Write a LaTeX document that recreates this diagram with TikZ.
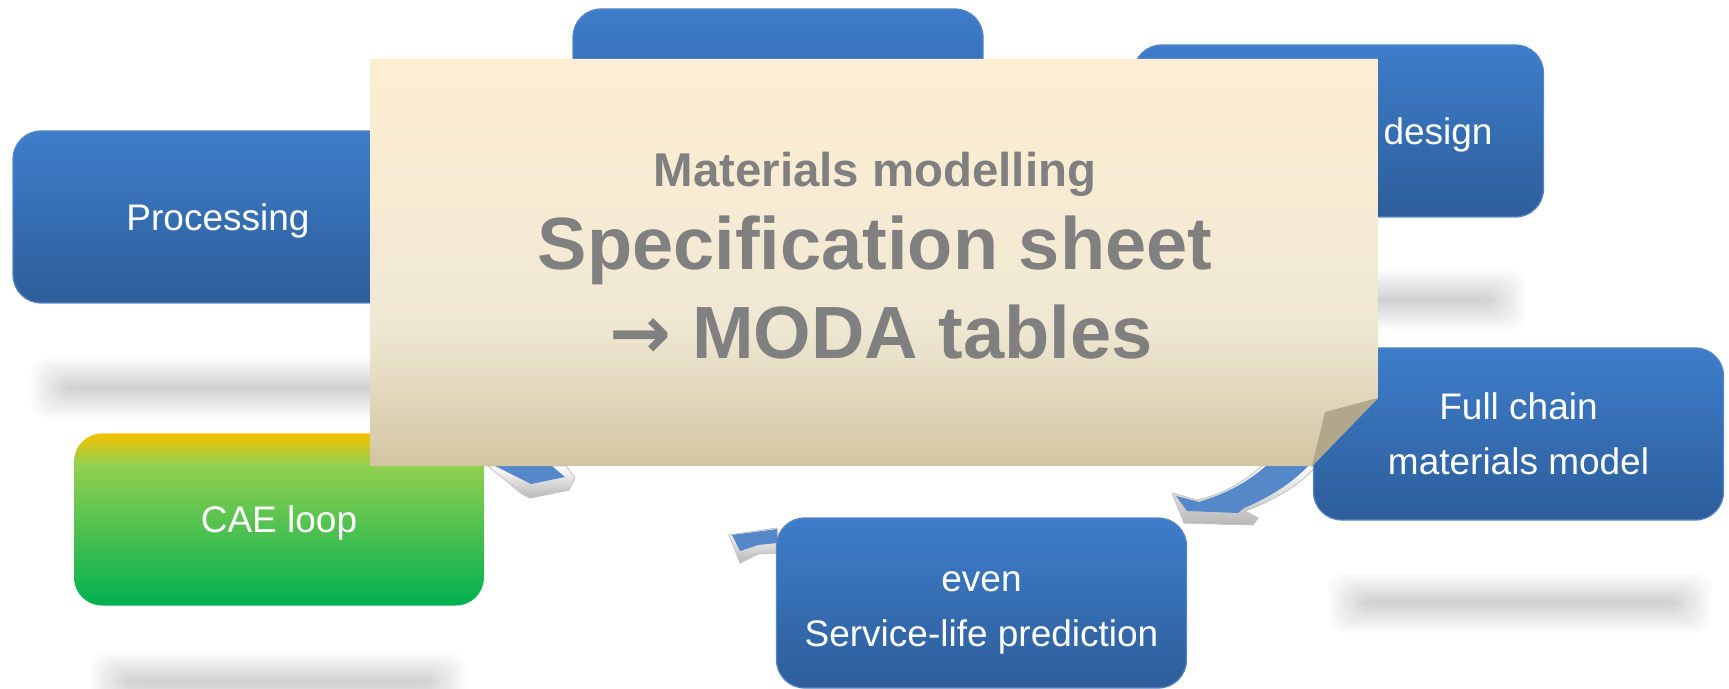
\documentclass[tikz,border=0pt]{standalone}
\usepackage{fontspec}
\setmainfont{Liberation Sans}
\newfontfamily\arrowfont{DejaVu Sans}
\definecolor{boxtop}{RGB}{62,125,202}
\definecolor{boxbot}{RGB}{45,94,154}
\definecolor{boxline}{RGB}{88,134,196}
\definecolor{caetop}{RGB}{247,192,0}
\definecolor{caemid}{RGB}{146,208,80}
\definecolor{caebot}{RGB}{0,176,80}
\definecolor{notetop}{RGB}{253,238,210}
\definecolor{notemid}{RGB}{243,234,212}
\definecolor{notelow}{RGB}{238,231,210}
\definecolor{notedeep}{RGB}{224,214,186}
\definecolor{notebot}{RGB}{211,197,162}
\definecolor{foldtan}{RGB}{177,167,139}
\definecolor{greytext}{RGB}{128,128,128}
\definecolor{arrowblue}{RGB}{84,136,200}
\pgfdeclareverticalshading{caeshade}{100bp}{color(0bp)=(caebot); color(25bp)=(caebot); color(66bp)=(caemid); color(75bp)=(caetop); color(100bp)=(caetop)}
\pgfdeclareverticalshading{noteshade}{100bp}{color(0bp)=(notebot); color(25bp)=(notebot); color(33bp)=(notedeep); color(42bp)=(notelow); color(50bp)=(notemid); color(75bp)=(notetop); color(100bp)=(notetop)}
\begin{document}
\begin{tikzpicture}[x=0.5pt, y=-0.5pt,
		box/.style={rectangle, rounded corners=14pt, minimum width=205pt, minimum height=86pt, inner sep=0pt, draw=boxline, line width=0.6pt, top color=boxtop, bottom color=boxbot, text=white, align=center, font=\fontsize{18.5pt}{27.5pt}\selectfont},
		caebox/.style={box, draw=none, shading=caeshade},
		boxtext/.style={text=white, inner sep=0pt, align=center, font=\fontsize{18.5pt}{27.5pt}\selectfont},
		blur/.style={fill=black, fill opacity=0.013, rounded corners=8pt},
		arrowside/.style={top color=white, bottom color=black!28, draw=black!22, line width=0.4pt},
		arrowface/.style={fill=arrowblue},
		notetext/.style={text=greytext, inner sep=0pt, anchor=base}]
		\useasboundingbox (0,0) rectangle (1729,689);
		\clip (0,0) rectangle (1729,689);
		\foreach \xa/\xb/\yc in {36/420/388, 1140/1521/300, 1334/1706/603, 96/460/682}
			\foreach \k in {0,...,14}
				\fill[blur] (\xa-6+2.6*\k, \yc-30+2*\k) rectangle (\xb+6-2.6*\k, \yc+30-2*\k);
		\fill[arrowside] (1262,466) .. controls (1240,485) and (1220,495) .. (1197,500) -- (1172,493) -- (1184,523) -- (1253,525) -- (1258,518) -- (1245,511) .. controls (1275,500) and (1300,485) .. (1316,466) -- cycle;
		\fill[arrowface] (1266,466) .. controls (1245,484) and (1225,494) .. (1199,502) -- (1176,496) -- (1187,511) -- (1238,513) -- (1244,508) .. controls (1270,497) and (1292,483) .. (1308,466) -- cycle;
		\fill[arrowside] (729,535) -- (777,528) -- (777,553) -- (758,554) -- (740,563) -- cycle;
		\fill[arrowface] (732,535) -- (777,529) -- (777,543) -- (758,545) -- (740,551) -- cycle;
		\fill[arrowside] (488,466) -- (522,494) -- (530,498) -- (569,490) -- (575,478) -- (566,466) -- cycle;
		\fill[arrowface] (495,466) -- (552,466) -- (565,477) -- (531,484) -- cycle;
		\node[box] (topbox) at (778,95) {};
		\node[box] (design) at (1338.5,131) {};
		\node[boxtext, anchor=base] (designlbl) at (1438,145) {design};
		\node[box, text depth=0pt] (processing) at (218,217) {Processing};
		\node[box] (fullchain) at (1518.5,434) {Full chain\\materials model};
		\node[box, minimum height=85pt] (service) at (981.5,603) {};
		\node[boxtext] (servicelbl) at (981.5,612.5) {even\\Service-life prediction};
		\node[caebox, text depth=0pt] (cae) at (279,519.5) {CAE loop};
		\shade[shading=noteshade] (370,59) -- (1378,59) -- (1378,398) -- (1312,466) -- (370,466) -- cycle;
		\fill[foldtan] (1378,398) -- (1325,412) -- (1312,466) -- cycle;
		\node[notetext, font=\bfseries\fontsize{23.7pt}{28pt}\selectfont] (subtitle) at (875,187) {Materials modelling};
		\node[notetext, font=\bfseries\fontsize{37pt}{44pt}\selectfont] (spec) at (875,270) {Specification sheet};
		\node[notetext, font=\bfseries\fontsize{37pt}{44pt}\selectfont] (moda) at (881,359) {{\arrowfont →} MODA tables};
	\end{tikzpicture}
\end{document}
